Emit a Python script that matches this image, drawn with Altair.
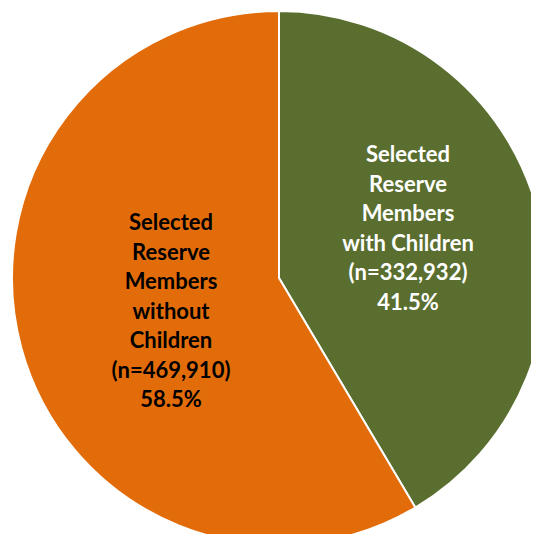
import altair as alt
import pandas as pd

categories = ["Selected Reserve Members with Children", "Selected Reserve Members without Children"]
counts = [332932, 469910]
percents = ["41.5%", "58.5%"]
label_lines = [
    ["Selected", "Reserve", "Members", "with Children", "(n=332,932)", "41.5%"],
    ["Selected", "Reserve", "Members", "without", "Children", "(n=469,910)", "58.5%"],
]
colors = ["#5A6E2F", "#E36C0A"]
text_colors = ["#FFFFFF", "#000000"]

df = pd.DataFrame({"category": categories, "count": counts, "order": [0, 1]})

W, H = 523, 526
cx, cy = 271, 270

pie = alt.Chart(df).mark_arc(radius=267, stroke="white", strokeWidth=2).encode(
    theta=alt.Theta("count:Q", stack=True),
    order=alt.Order("order:Q"),
    color=alt.Color("category:N", scale=alt.Scale(domain=categories, range=colors), legend=None),
    x=alt.value(cx),
    y=alt.value(cy),
)

lab_df = pd.DataFrame({"category": categories, "text": ["\n".join(l) for l in label_lines]})

label_pos = [(400, 147), (163, 215)]
texts = []
for i, cat in enumerate(categories):
    t = alt.Chart(lab_df).transform_filter(alt.datum.category == cat).mark_text(
        font="Lato", fontWeight="bold", fontSize=22, lineBreak="\n", lineHeight=29.5,
        align="center", baseline="middle", color=text_colors[i],
    ).encode(text="text:N", x=alt.value(label_pos[i][0]), y=alt.value(label_pos[i][1]))
    texts.append(t)

chart = alt.layer(pie, *texts).properties(
    width=W, height=H, padding=0, autosize=alt.AutoSizeParams(type="none")
).configure_view(stroke=None)

chart.save("out.html", embed_options={"renderer": "svg", "actions": False})
